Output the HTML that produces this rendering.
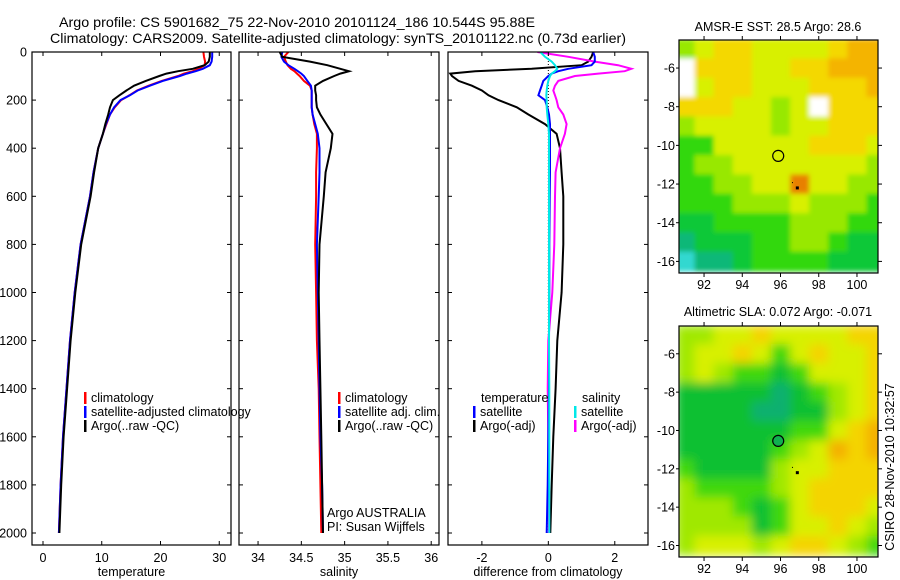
<!DOCTYPE html>
<html><head><meta charset="utf-8"><style>
html,body{margin:0;padding:0;background:#fff;}
svg{display:block;font-family:"Liberation Sans",sans-serif;}
</style></head><body>
<svg id="fig" width="900" height="580" viewBox="0 0 900 580" xmlns="http://www.w3.org/2000/svg">
<text x="59" y="27" font-size="14" textLength="476" lengthAdjust="spacingAndGlyphs">Argo profile: CS 5901682_75 22-Nov-2010 20101124_186 10.544S 95.88E</text>
<text x="50" y="43" font-size="14" textLength="576" lengthAdjust="spacingAndGlyphs">Climatology: CARS2009. Satellite-adjusted climatology: synTS_20101122.nc (0.73d earlier)</text>
<text x="778" y="31" font-size="12.5" text-anchor="middle">AMSR-E SST: 28.5 Argo: 28.6</text>
<text x="778" y="316" font-size="12.5" text-anchor="middle">Altimetric SLA: 0.072 Argo: -0.071</text>
<text transform="translate(894,467) rotate(-90)" font-size="12.5" text-anchor="middle">CSIRO 28-Nov-2010 10:32:57</text>
</svg>
<script>
const depth=[0,20,40,55,70,80,90,100,120,140,160,180,200,230,260,300,340,400,500,600,800,1000,1200,1400,1600,1800,2000];
const tempClim=[27.3,27.4,27.6,27.5,26.5,25.5,24,23,20.2,18,16,14.7,13.3,12.2,11.4,10.8,10.2,9.4,8.6,8.0,6.4,5.4,4.6,4.0,3.4,3.0,2.7];
const tempSat=[28.8,28.8,28.7,28.4,27.2,26,24.5,23.3,20.4,18.2,16.1,14.8,13.2,12.1,11.4,10.7,10.2,9.4,8.6,8.0,6.4,5.4,4.6,4.0,3.4,3.0,2.7];
const tempArgo=[28.4,28.4,28.2,27.5,25.5,23,21,19.8,17.5,15.5,14.2,13.0,11.9,11.4,11.1,10.6,10.2,9.4,8.7,8.1,6.5,5.5,4.7,4.1,3.5,3.1,2.8];
const salClim=[34.35,34.3,34.32,34.34,34.38,34.42,34.45,34.48,34.53,34.6,34.62,34.62,34.62,34.62,34.63,34.65,34.68,34.68,34.67,34.67,34.66,34.67,34.68,34.70,34.71,34.72,34.73];
const salSat=[34.28,34.27,34.3,34.35,34.42,34.46,34.5,34.53,34.57,34.61,34.62,34.62,34.62,34.62,34.63,34.66,34.69,34.71,34.71,34.70,34.68,34.69,34.70,34.71,34.72,34.74,34.75];
const salArgo=[34.25,34.28,34.6,34.8,34.95,35.05,34.95,34.88,34.75,34.66,34.66,34.67,34.67,34.68,34.72,34.79,34.86,34.84,34.78,34.76,34.71,34.70,34.71,34.72,34.73,34.74,34.75];
const dTempArgo=[1.35,1.3,1.2,1.0,-0.5,-2.2,-2.95,-2.9,-2.7,-2.3,-2.0,-1.8,-1.5,-0.95,-0.6,-0.1,0.25,0.35,0.4,0.45,0.45,0.4,0.27,0.22,0.15,0.1,0.06];
const dTempSat=[1.35,1.4,1.4,1.3,0.6,0.3,0.1,0,-0.15,-0.2,-0.25,-0.3,-0.1,-0.03,0.02,0.05,0.05,0.05,0.05,0.04,0.03,0.03,0.02,0.02,0.0,-0.02,-0.05];
const dSalArgo=[-0.33,0.6,1.4,2.1,2.5,2.3,1.5,0.8,0.3,0.2,0.15,0.2,0.25,0.3,0.45,0.55,0.5,0.35,0.22,0.2,0.18,0.12,0.0,-0.02,0,0,0.02];
const dSalSat=[-0.24,-0.1,0.1,0.2,0.27,0.2,0.1,0.05,0,-0.03,-0.05,-0.06,-0.05,-0.05,-0.03,0,0.02,0.02,0.02,0.02,0.02,0.02,0.02,0.03,0.03,0.03,0.03];
const depthTicks=[0,200,400,600,800,1000,1200,1400,1600,1800,2000];
const tempTicks=[0,10,20,30];
const salTicks=[34,34.5,35,35.5,36];
const diffTicks=[-2,0,2];
const mapLons=[91,92,93,94,95,96,97,98,99,100,101];
const mapLats=[-5,-6,-7,-8,-9,-10,-11,-12,-13,-14,-15,-16];
const lonTicks=[92,94,96,98,100];
const latTicks=[-6,-8,-10,-12,-14,-16];
const sstGrid=["45665555677","W6665566777","W5665556667","6665545W666","45555455666","33555556665","34455555554","33445585544","33344454443","22333344433","12223344322","01123333222"];
const slaGrid=["44556555566","45565356556","45433235556","22222123456","22221122456","22222233567","22222345767","32222455666","43333456666","44432356665","44442355654","45554566543"];
const palette={"0":"#30d8d0","1":"#10b878","2":"#10c838","3":"#30d810","4":"#98e800","5":"#d8f000","6":"#f4d800","7":"#f4b400","8":"#e88000","W":"#ffffff"};
const slaPalette={"1":"#10b070","2":"#10c030","3":"#40d810","4":"#a0e800","5":"#d8f000","6":"#f4d400","7":"#f4b000"};
const svg=document.getElementById('fig');
const NS='http://www.w3.org/2000/svg';
function mk(tag,attrs,parent){const e=document.createElementNS(NS,tag);for(const k in attrs)e.setAttribute(k,attrs[k]);(parent||svg).appendChild(e);return e;}
const yTop=52,yBot=545;
function yD(d){return yTop+d*0.2405;}
const panels=[
 {name:'temperature',x0:32,x1:231,v0:-1.87,v1:32.0,ticks:tempTicks,label:'temperature',series:[[tempClim,'#ff0000','climatology'],[tempSat,'#0000ff','satellite-adjusted'],[tempArgo,'#000000','argo']],depthLabels:true},
 {name:'salinity',x0:239,x1:439,v0:33.78,v1:36.09,ticks:salTicks,label:'salinity',series:[[salClim,'#ff0000','climatology'],[salSat,'#0000ff','satellite-adjusted'],[salArgo,'#000000','argo']]},
 {name:'difference',x0:448,x1:648,v0:-3.02,v1:3.0,ticks:diffTicks,label:'difference from climatology',series:[[dTempArgo,'#000000','temp-argo'],[dSalArgo,'#ff00ff','sal-argo'],[dTempSat,'#0000ff','temp-satellite'],[dSalSat,'#00e8e8','sal-satellite']]}
];
panels.forEach(p=>{
 const g=mk('g',{});
 
 
 const xs=v=>p.x0+(v-p.v0)/(p.v1-p.v0)*(p.x1-p.x0);
 const clip=mk('clipPath',{id:'clip-'+p.name},g);
 mk('rect',{x:p.x0,y:yTop,width:p.x1-p.x0,height:yBot-yTop},clip);
 if(p.name==='difference'){
  const z=mk('line',{x1:xs(0),y1:yTop,x2:xs(0),y2:yD(2000),stroke:'#000','stroke-width':1,'stroke-dasharray':'1,2'},g);
  
  
 }
 p.series.forEach(s=>{
  const pts=depth.map((d,i)=>xs(s[0][i]).toFixed(1)+','+yD(d).toFixed(1)).join(' ');
  const pl=mk('polyline',{points:pts,fill:'none',stroke:s[1],'stroke-width':2,'clip-path':'url(#clip-'+p.name+')'},g);
  
  
 });
 const fr=mk('rect',{x:p.x0,y:yTop,width:p.x1-p.x0,height:yBot-yTop,fill:'none',stroke:'#000','stroke-width':1.2},g);
 
 
 p.ticks.forEach(t=>{
  const x=xs(t);
  mk('line',{x1:x,y1:yTop,x2:x,y2:yTop+4,stroke:'#000'},g);
  mk('line',{x1:x,y1:yBot,x2:x,y2:yBot-4,stroke:'#000'},g);
  const tl=mk('text',{x:x,y:562,'font-size':12.5,'text-anchor':'middle'},g);
  tl.textContent=String(t);
  
  
 });
 depthTicks.forEach(d=>{
  const y=yD(d);
  mk('line',{x1:p.x0,y1:y,x2:p.x0+4,y2:y,stroke:'#000'},g);
  mk('line',{x1:p.x1,y1:y,x2:p.x1-4,y2:y,stroke:'#000'},g);
  if(p.depthLabels){
   const tl=mk('text',{x:27,y:y+4.5,'font-size':12.5,'text-anchor':'end'},g);
   tl.textContent=String(d);
   
   
  }
 });
 const al=mk('text',{x:(p.x0+p.x1)/2,y:576,'font-size':12.5,'text-anchor':'middle'},g);
 al.textContent=p.label;
 
 
});
function legendEntry(x,y,color,label,name){
 const g=mk('g',{});
 
 
 if(color) mk('rect',{x:x,y:y-10,width:2.5,height:12,fill:color},g);
 const t=mk('text',{x:x+7,y:y,'font-size':12.5},g);
 t.textContent=label;
}
legendEntry(84,402,'#ff0000','climatology','temp-legend-climatology');
legendEntry(84,416,'#0000ff','satellite-adjusted climatology','temp-legend-satellite');
legendEntry(84,430,'#000000','Argo(..raw -QC)','temp-legend-argo');
legendEntry(338,402,'#ff0000','climatology','sal-legend-climatology');
legendEntry(338,416,'#0000ff','satellite adj. clim.','sal-legend-satellite');
legendEntry(338,430,'#000000','Argo(..raw -QC)','sal-legend-argo');
legendEntry(474,402,null,'temperature','diff-legend-temp-header');
legendEntry(473,416,'#0000ff','satellite','diff-legend-temp-satellite');
legendEntry(473,430,'#000000','Argo(-adj)','diff-legend-temp-argo');
legendEntry(575,402,null,'salinity','diff-legend-sal-header');
legendEntry(574,416,'#00e8e8','satellite','diff-legend-sal-satellite');
legendEntry(574,430,'#ff00ff','Argo(-adj)','diff-legend-sal-argo');
const a1=mk('text',{x:327,y:517,'font-size':12.5});a1.textContent='Argo AUSTRALIA';


const a2=mk('text',{x:327,y:531,'font-size':12.5});a2.textContent='PI: Susan Wijffels';



function drawMap(name,top,bot,grid,pal,blur,filledCircle){
 const x0=679,x1=878,lonL=90.69,lonR=101.1;
 const latT=-4.55,latB=-16.6;
 const lx=v=>x0+(v-lonL)/(lonR-lonL)*(x1-x0);
 const ly=v=>top+(v-latT)/(latB-latT)*(bot-top);
 const g=mk('g',{});
 
 
 const clip=mk('clipPath',{id:'clip-'+name},g);
 mk('rect',{x:x0,y:top,width:x1-x0,height:bot-top},clip);
 if(blur){const f=mk('filter',{id:'blur-'+name,x:'-10%',y:'-10%',width:'120%',height:'120%'},g);mk('feGaussianBlur',{stdDeviation:blur},f);}
 const cg=mk('g',{'clip-path':'url(#clip-'+name+')'},g);
 const inner=mk('g',blur?{filter:'url(#blur-'+name+')'}:{},cg);
 mapLats.forEach((lat,r)=>{
  mapLons.forEach((lon,c)=>{
   const ch=grid[r][c];
   const xa=lx(lon-0.5),xb=lx(lon+0.5),ya=ly(lat+0.5),yb=ly(lat-0.5);
   const cell=mk('rect',{x:xa.toFixed(1),y:ya.toFixed(1),width:(xb-xa+0.6).toFixed(1),height:(yb-ya+0.6).toFixed(1),fill:pal[ch]||'#d8f000'},inner);
   
   
  });
 });
 const cc=mk('circle',{cx:lx(95.88),cy:ly(-10.544),r:5.5,fill:filledCircle?'#10b050':'none',stroke:'#000','stroke-width':1.2},g);
 
 
 mk('rect',{x:lx(96.88)-1.5,y:ly(-12.2)-1.5,width:3,height:3,fill:'#000'},g);
 mk('rect',{x:lx(96.6),y:ly(-11.9),width:1,height:1,fill:'#000'},g);
 const fr=mk('rect',{x:x0,y:top,width:x1-x0,height:bot-top,fill:'none',stroke:'#000','stroke-width':1.2},g);
 
 
 lonTicks.forEach(v=>{
  const x=lx(v);
  mk('line',{x1:x,y1:top,x2:x,y2:top-4,stroke:'#000'},g);
  mk('line',{x1:x,y1:bot,x2:x,y2:bot+4,stroke:'#000'},g);
  const t=mk('text',{x:x,y:bot+16,'font-size':12.5,'text-anchor':'middle'},g);
  t.textContent=String(v);
  
  
 });
 latTicks.forEach(v=>{
  const y=ly(v);
  mk('line',{x1:x0,y1:y,x2:x0-3,y2:y,stroke:'#000'},g);
  mk('line',{x1:x1,y1:y,x2:x1+4,y2:y,stroke:'#000'},g);
  const t=mk('text',{x:675,y:y+4.5,'font-size':12.5,'text-anchor':'end'},g);
  t.textContent=String(v);
  
  
 });
}
drawMap('sst',40,273,sstGrid,palette,2.5,false);
drawMap('sla',326,557,slaGrid,slaPalette,5,true);
</script>
</body></html>
